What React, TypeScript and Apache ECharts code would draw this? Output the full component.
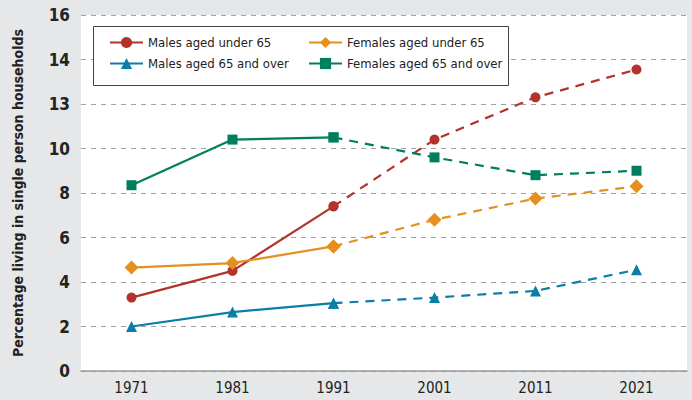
import React, { useEffect, useRef } from "react";
import * as echarts from "echarts";

const years = ["1971", "1981", "1991", "2001", "2011", "2021"];
const malesUnder65 = [3.3, 4.5, 7.4, 10.4, 12.3, 13.55];
const femalesUnder65 = [4.65, 4.85, 5.6, 6.8, 7.75, 8.3];
const males65Over = [2.0, 2.65, 3.05, 3.3, 3.6, 4.55];
const females65Over = [8.35, 10.4, 10.5, 9.6, 8.8, 9.0];
// tick labels as printed on the reference axis
const yTickLabels: Record<number, string> = { 0: "0", 2: "2", 4: "4", 6: "6", 8: "8", 10: "10", 12: "13", 14: "14", 16: "16" };

const FONT = "'Liberation Sans Narrow', 'DejaVu Sans Condensed', 'Open Sans', sans-serif";

const groups = [
  { name: "Males aged under 65", data: malesUnder65, color: "#b3322a", symbol: "circle", size: 10 },
  { name: "Females aged under 65", data: femalesUnder65, color: "#e58f1e", symbol: "diamond", size: 14 },
  { name: "Males aged 65 and over", data: males65Over, color: "#0b7ea8", symbol: "triangle", size: 11 },
  { name: "Females aged 65 and over", data: females65Over, color: "#007f5e", symbol: "rect", size: 10 },
];

export default function App() {
  const ref = useRef<HTMLDivElement>(null);
  useEffect(() => {
    document.body.style.margin = "0";
    const chart = echarts.init(ref.current!, null, { renderer: "svg" });
    const series: any[] = [];
    groups.forEach((g) => {
      const solid = g.data.map((v, i) => (i <= 2 ? v : null));
      const dashed = g.data.map((v, i) => (i >= 2 ? v : null));
      series.push({
        name: g.name + " (projected)",
        type: "line",
        data: dashed,
        symbol: g.symbol,
        symbolSize: g.size,
        showAllSymbol: true,
        itemStyle: { color: g.color },
        lineStyle: { color: g.color, width: 2.2, type: [9, 7] },
        z: 2,
      });
      series.push({
        name: g.name,
        type: "line",
        data: solid,
        symbol: g.symbol,
        symbolSize: g.size,
        showAllSymbol: true,
        itemStyle: { color: g.color },
        lineStyle: { color: g.color, width: 2.2 },
        z: 3,
      });
    });
    const legendCommon = {
      orient: "vertical",
      top: 31,
      itemWidth: 33,
      itemHeight: 14,
      itemGap: 8,
      selectedMode: false,
      textStyle: { fontFamily: FONT, fontSize: 13, color: "#222" },
    };
    chart.setOption({
      animation: false,
      backgroundColor: "#e6e7e8",
      textStyle: { fontFamily: FONT },
      grid: {
        left: 81,
        right: 5,
        top: 15,
        bottom: 29,
        show: true,
        backgroundColor: "#ffffff",
        borderWidth: 0,
      },
      graphic: [
        {
          type: "rect",
          shape: { x: 93.5, y: 26.5, width: 415, height: 59 },
          style: { fill: "#ffffff", stroke: "#444", lineWidth: 1 },
          z: 5,
        },
      ],
      legend: [
        { ...legendCommon, left: 104, data: ["Males aged under 65", "Males aged 65 and over"], z: 10 },
        { ...legendCommon, left: 303, data: ["Females aged under 65", "Females aged 65 and over"], z: 10 },
      ],
      xAxis: {
        type: "category",
        data: years,
        boundaryGap: true,
        axisLine: { lineStyle: { color: "#999", width: 1.5 } },
        axisTick: { show: false },
        axisLabel: { color: "#222", fontSize: 15, margin: 9, fontFamily: FONT },
      },
      yAxis: {
        type: "value",
        min: 0,
        max: 16,
        interval: 2,
        name: "Percentage living in single person households",
        nameLocation: "middle",
        nameGap: 56,
        nameTextStyle: { fontFamily: FONT, fontSize: 14, fontWeight: "bold", color: "#222" },
        axisLine: { show: false },
        axisTick: { show: false },
        axisLabel: {
          color: "#222",
          fontSize: 17,
          fontWeight: "bold",
          margin: 11,
          fontFamily: FONT,
          formatter: (v: number) => yTickLabels[v] ?? String(v),
        },
        splitLine: {
          show: true,
          lineStyle: { color: "#a0a0a0", type: [5, 5], width: 1.2 },
        },
      },
      series,
    });
    return () => chart.dispose();
  }, []);
  return <div ref={ref} style={{ width: 692, height: 400 }} />;
}
